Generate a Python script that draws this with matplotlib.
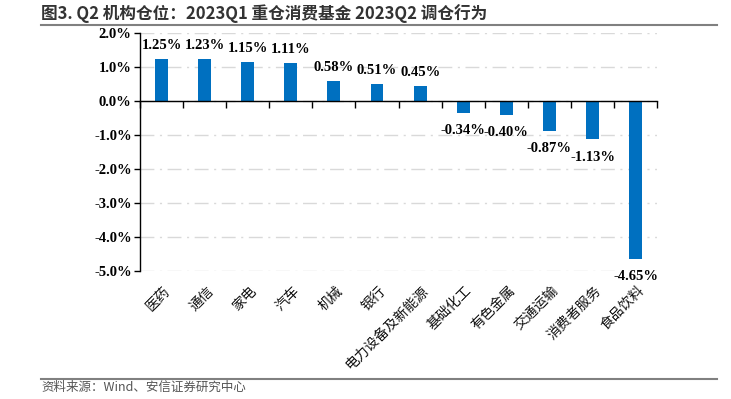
import numpy as np
import matplotlib.pyplot as plt
import matplotlib.transforms as mtransforms
from matplotlib.lines import Line2D
from matplotlib.ticker import FuncFormatter

categories = ['医药', '通信', '家电', '汽车', '机械', '银行', '电力设备及新能源',
              '基础化工', '有色金属', '交通运输', '消费者服务', '食品饮料']
values = [1.25, 1.23, 1.15, 1.11, 0.58, 0.51, 0.45,
          -0.34, -0.40, -0.87, -1.13, -4.65]
yticks = [2.0, 1.0, 0.0, -1.0, -2.0, -3.0, -4.0, -5.0]

title = '图3. Q2 机构仓位：2023Q1 重仓消费基金 2023Q2 调仓行为'
source = '资料来源：Wind、安信证券研究中心'

cjk = ['Noto Sans CJK SC', 'DejaVu Sans']
num_font = dict(family='Liberation Serif', weight='bold', size=10.5)

fig = plt.figure(figsize=(7.31, 3.99), dpi=100)
ax = fig.add_axes([0.1915, 0.3208, 0.7075, 0.5962])

x = np.arange(len(categories))
ax.bar(x, values, width=0.3, color='#0070C0', zorder=3)

for xi, v in zip(x, values):
    if v >= 0:
        ax.annotate(f'{v:.2f}%', (xi, v), xytext=(0, 5), textcoords='offset points',
                    ha='center', va='bottom', **num_font)
    else:
        ax.annotate(f'{v:.2f}%', (xi, v), xytext=(0, -8), textcoords='offset points',
                    ha='center', va='top', **num_font)

ax.set_xlim(-0.5, len(categories) - 0.5)
ax.set_ylim(-5.0, 2.0)
ax.set_yticks(yticks)
ax.yaxis.set_major_formatter(FuncFormatter(lambda v, p: f'{v:.1f}%'))
for lab in ax.get_yticklabels():
    lab.set_fontfamily('Liberation Serif')
    lab.set_fontweight('bold')
    lab.set_fontsize(10.5)
ax.tick_params(axis='y', direction='out', length=4, width=1, pad=2)

ax.grid(axis='y', color='#d9d9d9', linewidth=1, linestyle=(0, (10, 4, 1.5, 4)), zorder=0)

for s in ['top', 'right']:
    ax.spines[s].set_visible(False)
ax.spines['left'].set_linewidth(1)
ax.spines['bottom'].set_position(('data', 0))
ax.spines['bottom'].set_linewidth(1)
ax.spines['bottom'].set_zorder(4)

# ticks between categories on the zero line, labels at the bottom of the axes
ax.set_xticks(np.arange(-0.5, len(categories), 1.0))
ax.set_xticklabels([])
ax.tick_params(axis='x', direction='out', length=5, width=1)

trans = mtransforms.blended_transform_factory(ax.transData, ax.transAxes)
offset = mtransforms.ScaledTranslation(1 / 72, -9 / 72, fig.dpi_scale_trans)
for xi, name in zip(x, categories):
    ax.text(xi, 0, name, transform=trans + offset, rotation=45,
            rotation_mode='anchor', ha='right', va='top',
            family=cjk, fontsize=10, color='#111111')

fig.text(0.056, 0.965, title, family=cjk, fontsize=12, fontweight='bold',
         color='#333333', va='center', ha='left')
fig.text(0.056, 0.030, source, family=cjk, fontsize=9, style='italic',
         color='#555555', va='center', ha='left')

fig.add_artist(Line2D([0.056, 0.981], [0.937, 0.937], transform=fig.transFigure,
                      color='#808080', linewidth=1.5))
fig.add_artist(Line2D([0.056, 0.981], [0.050, 0.050], transform=fig.transFigure,
                      color='#808080', linewidth=1.5))

fig.savefig('out.png', dpi=100)
